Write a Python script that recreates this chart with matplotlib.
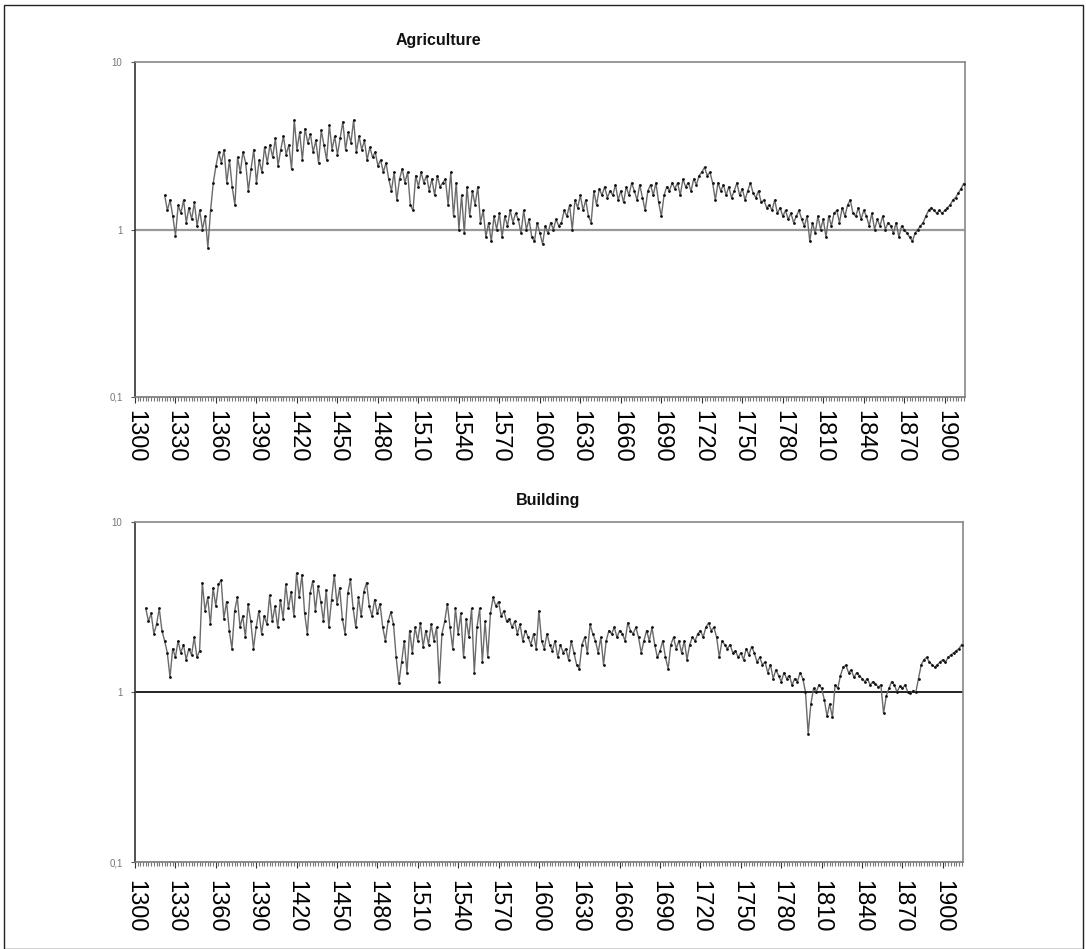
import numpy as np
import matplotlib
matplotlib.use("Agg")
import matplotlib.pyplot as plt
from matplotlib.patches import Rectangle
from matplotlib.ticker import FixedLocator, MultipleLocator, NullFormatter

plt.rcParams['font.family'] = ['Liberation Sans', 'DejaVu Sans']

# ---------------- data ----------------
agri_start = 1322
agriculture = [
    1.6, 1.3, 1.5, 1.2,
    0.92, 1.4, 1.25, 1.5, 1.1,
    1.35, 1.15, 1.45, 1.05, 1.3,
    1.0, 1.2, 0.78, 1.3, 1.9,
    2.4, 2.9, 2.5, 3.0, 1.9,
    2.6, 1.8, 1.4, 2.7, 2.2,
    2.9, 2.5, 1.7, 2.3, 3.0,
    1.9, 2.6, 2.2, 3.1, 2.5,
    3.2, 2.7, 3.5, 2.4, 3.0,
    3.6, 2.8, 3.2, 2.3, 4.5,
    3.0, 3.8, 2.6, 4.0, 3.3,
    3.7, 2.9, 3.4, 2.5, 3.9,
    3.2, 2.6, 4.2, 3.0, 3.6,
    2.8, 3.5, 4.4, 3.0, 3.8,
    3.3, 4.5, 2.9, 3.6, 3.0,
    3.4, 2.6, 3.1, 2.7, 2.9,
    2.4, 2.6, 2.2, 2.5, 2.0,
    1.7, 2.2, 1.5, 2.0, 2.3,
    1.9, 2.2, 1.4, 1.3, 2.1,
    1.8, 2.2, 1.9, 2.1, 1.7,
    2.0, 1.6, 2.1, 1.8, 1.9,
    2.0, 1.4, 2.2, 1.2, 1.9,
    1.0, 1.6, 0.95, 1.8, 1.2,
    1.7, 1.4, 1.8, 1.1, 1.3,
    0.9, 1.1, 0.85, 1.2, 1.0,
    1.25, 0.9, 1.2, 1.05, 1.3,
    1.1, 1.25, 1.15, 0.95, 1.3,
    1.0, 1.15, 0.9, 0.85, 1.1,
    0.95, 0.82, 1.05, 0.95, 1.1,
    1.0, 1.15, 1.05, 1.1, 1.3,
    1.2, 1.4, 1.0, 1.5, 1.35,
    1.6, 1.3, 1.5, 1.2, 1.1,
    1.7, 1.4, 1.75, 1.6, 1.8,
    1.55, 1.7, 1.6, 1.85, 1.5,
    1.7, 1.45, 1.8, 1.6, 1.9,
    1.7, 1.5, 1.85, 1.55, 1.3,
    1.7, 1.85, 1.6, 1.9, 1.45,
    1.2, 1.6, 1.8, 1.7, 1.9,
    1.75, 1.9, 1.6, 2.0, 1.8,
    1.9, 1.7, 2.0, 1.85, 2.1,
    2.2, 2.35, 2.1, 2.2, 1.9,
    1.5, 1.9, 1.7, 1.85, 1.6,
    1.8, 1.55, 1.7, 1.9, 1.6,
    1.75, 1.5, 1.7, 1.9, 1.65,
    1.55, 1.7, 1.45, 1.5, 1.35,
    1.4, 1.3, 1.5, 1.25, 1.35,
    1.2, 1.3, 1.15, 1.25, 1.1,
    1.2, 1.3, 1.15, 1.05, 1.2,
    0.85, 1.1, 0.95, 1.2, 1.0,
    1.15, 0.9, 1.2, 1.05, 1.25,
    1.3, 1.1, 1.35, 1.2, 1.4,
    1.5, 1.25, 1.2, 1.35, 1.15,
    1.3, 1.2, 1.05, 1.25, 1.0,
    1.15, 1.05, 1.2, 1.0, 1.1,
    1.05, 0.95, 1.1, 0.9, 1.05,
    1.0, 0.95, 0.9, 0.85, 0.95,
    1.0, 1.05, 1.1, 1.2, 1.3,
    1.35, 1.3, 1.25, 1.3, 1.25,
    1.3, 1.35, 1.4, 1.5, 1.55,
    1.65, 1.75, 1.88,
]

build_start = 1308
building = [
    3.1,
    2.6, 2.9, 2.2, 2.5, 3.1,
    2.3, 2.0, 1.7, 1.22, 1.8,
    1.6, 2.0, 1.7, 1.9, 1.55,
    1.8, 1.65, 2.1, 1.6, 1.75,
    4.4, 3.0, 3.6, 2.5, 4.1,
    3.2, 4.3, 4.55, 2.7, 3.4,
    2.3, 1.8, 3.0, 3.6, 2.4,
    2.8, 2.1, 3.3, 2.6, 1.8,
    2.4, 3.0, 2.2, 2.8, 2.5,
    3.7, 2.6, 3.2, 2.4, 3.5,
    2.7, 4.3, 3.1, 3.9, 2.8,
    5.0, 3.6, 4.9, 2.9, 2.2,
    3.8, 4.5, 3.0, 4.2, 3.4,
    2.6, 4.0, 2.4, 3.5, 4.9,
    3.3, 4.1, 2.7, 2.2, 3.8,
    4.6, 3.1, 2.4, 3.6, 2.8,
    3.9, 4.4, 3.2, 2.8, 3.5,
    2.9, 3.3, 2.4, 2.0, 2.6,
    2.95, 2.5, 1.6, 1.13, 1.5,
    2.0, 1.3, 2.3, 1.7, 2.4,
    2.0, 2.55, 1.85, 2.3, 1.9,
    2.5, 2.0, 2.4, 1.15, 2.2,
    2.6, 3.3, 2.4, 1.8, 3.1,
    2.2, 2.9, 1.6, 2.7, 2.1,
    3.1, 1.3, 2.4, 3.1, 1.5,
    2.6, 1.6, 2.9, 3.6, 3.2,
    3.4, 2.8, 3.0, 2.6, 2.7,
    2.4, 2.6, 2.2, 2.5, 2.0,
    2.3, 2.1, 1.9, 2.2, 1.8,
    3.0, 2.0, 1.8, 2.2, 1.9,
    1.75, 2.0, 1.6, 1.9, 1.7,
    1.8, 1.55, 2.0, 1.7, 1.45,
    1.37, 1.9, 2.1, 1.7, 2.5,
    2.2, 2.0, 1.7, 2.1, 1.45,
    2.0, 2.3, 2.2, 2.4, 2.1,
    2.3, 2.2, 2.0, 2.55, 2.3,
    2.2, 2.4, 2.1, 1.7, 2.0,
    2.3, 2.0, 2.4, 1.9, 1.6,
    1.75, 2.0, 1.6, 1.37, 1.9,
    2.1, 1.8, 2.0, 1.7, 2.0,
    1.55, 1.9, 2.1, 2.0, 2.2,
    2.3, 2.1, 2.4, 2.55, 2.3,
    2.4, 2.1, 1.6, 2.0, 1.9,
    1.8, 1.9, 1.7, 1.75, 1.6,
    1.7, 1.55, 1.8, 1.65, 1.85,
    1.7, 1.5, 1.6, 1.45, 1.5,
    1.3, 1.45, 1.2, 1.35, 1.25,
    1.15, 1.3, 1.2, 1.25, 1.1,
    1.2, 1.15, 1.3, 1.2, 1.0,
    0.57, 0.85, 1.05, 1.0, 1.1,
    1.05, 0.9, 0.72, 0.85, 0.71,
    1.1, 1.05, 1.25, 1.4, 1.44,
    1.3, 1.35, 1.22, 1.3, 1.25,
    1.2, 1.15, 1.2, 1.1, 1.15,
    1.12, 1.07, 1.1, 0.75, 0.95,
    1.05, 1.15, 1.1, 1.0, 1.08,
    1.05, 1.1, 1.0, 0.98, 1.02,
    1.0, 1.2, 1.45, 1.55, 1.6,
    1.5, 1.45, 1.4, 1.45, 1.5,
    1.55, 1.5, 1.6, 1.65, 1.7,
    1.75, 1.8, 1.9,
]

agri_years = agri_start + 2 * np.arange(len(agriculture))
build_years = build_start + 2 * np.arange(len(building))

x_ticks = list(range(1300, 1901, 30))
y_ticks = [0.1, 1, 10]
y_labels = ["0,1", "1", "10"]
titles = ["Agriculture", "Building"]

# ---------------- figure ----------------
W, H = 1086, 949
fig = plt.figure(figsize=(W / 100, H / 100), dpi=100)
fig.patches.append(Rectangle((4 / W, 0.0), (1083 - 4) / W, 1 - 5 / H,
                             transform=fig.transFigure, fill=False,
                             edgecolor='#222222', lw=1.0))

panels = [
    dict(pos=[135 / W, 1 - 397 / H, 830 / W, 335 / H], x=agri_years, y=agriculture,
         title_xy=(438 / W, 1 - 40 / H), ref_color='#999999', ref_lw=1.6, pad=5),
    dict(pos=[135 / W, 1 - 862 / H, 828 / W, 340 / H], x=build_years, y=building,
         title_xy=(548 / W, 1 - 500 / H), ref_color='#111111', ref_lw=1.3, pad=9),
]

for p, title in zip(panels, titles):
    ax = fig.add_axes(p['pos'])
    ax.set_yscale('log')
    ax.set_ylim(0.1, 10)
    ax.set_xlim(1300, 1915)
    ax.axhline(1, color=p['ref_color'], lw=p['ref_lw'], zorder=1)
    ax.plot(p['x'], p['y'], color='#6a6a6a', lw=1.0, zorder=2)
    ax.plot(p['x'], p['y'], ls='none', marker='o', ms=1.0, color='#111111', zorder=3)

    ax.yaxis.set_major_locator(FixedLocator(y_ticks))
    ax.set_yticklabels(y_labels)
    ax.yaxis.set_minor_formatter(NullFormatter())
    ax.tick_params(axis='y', which='major', labelsize=7, labelcolor='#777777',
                   length=3, color='#555555', pad=6)
    ax.tick_params(axis='y', which='minor', length=0)

    ax.xaxis.set_major_locator(FixedLocator(x_ticks))
    ax.set_xticklabels([str(t) for t in x_ticks], rotation=270)
    ax.xaxis.set_minor_locator(MultipleLocator(2))
    ax.tick_params(axis='x', which='major', labelsize=17, length=4,
                   color='#333333', pad=p['pad'])
    ax.tick_params(axis='x', which='minor', length=3, color='#777777', width=0.8)

    for s in ['top', 'right']:
        ax.spines[s].set_color('#888888')
        ax.spines[s].set_linewidth(1.2)
    ax.spines['bottom'].set_color('#777777')
    ax.spines['bottom'].set_linewidth(1.2)
    ax.spines['left'].set_color('#333333')
    ax.spines['left'].set_linewidth(1.2)

    fig.text(p['title_xy'][0], p['title_xy'][1], title, ha='center', va='center',
             fontsize=11.5, fontweight='bold', color='#111111')

fig.savefig('out.png', dpi=100)
